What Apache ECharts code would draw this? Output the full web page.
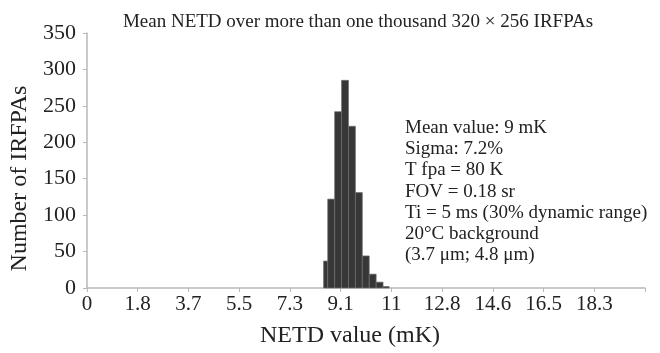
<!DOCTYPE html>
<html>
<head>
<meta charset="utf-8">
<script src="https://cdn.jsdelivr.net/npm/echarts@6/dist/echarts.min.js"></script>
<style>
  html, body { margin: 0; padding: 0; background: #fff; }
  #chart { width: 660px; height: 353px; }
</style>
</head>
<body>
<div id="chart"></div>
<script>
// Histogram bins of mean NETD (mK): lower and upper edges, and array counts
const binLow  = [8.55, 8.70, 8.95, 9.20, 9.45, 9.70, 9.95, 10.20, 10.45, 10.70];
const binHigh = [8.70, 8.95, 9.20, 9.45, 9.70, 9.95, 10.20, 10.45, 10.70, 10.92];
const counts  = [37, 122, 242, 285, 222, 131, 44, 19, 8, 2];

// Axis tick labels
const xStep = 11 / 6;
const xTickLabels = ['0', '1.8', '3.7', '5.5', '7.3', '9.1', '11', '12.8', '14.6', '16.5', '18.3', ''];
const yTicks = [0, 50, 100, 150, 200, 250, 300, 350];

const notes = [
  'Mean value: 9 mK',
  'Sigma: 7.2%',
  'T fpa = 80 K',
  'FOV = 0.18 sr',
  'Ti = 5 ms (30% dynamic range)',
  '20°C background',
  '(3.7 μm; 4.8 μm)'
];

const serif = '"Liberation Serif", "DejaVu Serif", serif';
const ink = '#222';

const bins = counts.map((c, i) => [binLow[i], binHigh[i], c]);

const chart = echarts.init(document.getElementById('chart'), null, { renderer: 'canvas' });

chart.setOption({
  animation: false,
  backgroundColor: '#fff',
  textStyle: { fontFamily: serif, color: ink },
  title: {
    text: 'Mean NETD over more than one thousand 320 × 256 IRFPAs',
    left: 353,
    textAlign: 'center',
    top: 8,
    textStyle: { fontFamily: serif, fontWeight: 'normal', fontSize: 19, color: ink }
  },
  grid: { left: 87, right: 15, top: 33, bottom: 56, containLabel: false },
  xAxis: {
    type: 'value',
    min: 0,
    max: xStep * (xTickLabels.length - 1),
    interval: xStep,
    name: 'NETD value (mK)',
    nameLocation: 'middle',
    nameGap: 36,
    nameTextStyle: { fontFamily: serif, fontSize: 24, color: ink, padding: [0, 32, 0, 0] },
    axisLine: { lineStyle: { color: '#b8b8b8', width: 1.5 } },
    axisTick: { length: 4, lineStyle: { color: '#b8b8b8' } },
    axisLabel: {
      fontFamily: serif, fontSize: 21, color: ink, margin: 6,
      showMaxLabel: true,
      formatter: v => xTickLabels[Math.round(v / xStep)] ?? ''
    },
    splitLine: { show: false }
  },
  yAxis: {
    type: 'value',
    min: yTicks[0],
    max: yTicks[yTicks.length - 1],
    interval: yTicks[1] - yTicks[0],
    name: 'Number of IRFPAs',
    nameLocation: 'middle',
    nameGap: 52,
    nameTextStyle: { fontFamily: serif, fontSize: 24, color: ink, padding: [0, 36, 0, 0] },
    axisLine: { show: true, lineStyle: { color: '#b8b8b8', width: 1.5 } },
    axisTick: { show: true, length: 4, lineStyle: { color: '#b8b8b8' } },
    axisLabel: { fontFamily: serif, fontSize: 22, color: ink, margin: 11 },
    splitLine: { show: false }
  },
  series: [{
    type: 'custom',
    data: bins,
    encode: { x: [0, 1], y: 2 },
    renderItem: (params, api) => {
      const top = api.coord([api.value(0), api.value(2)]);
      const base = api.coord([api.value(1), 0]);
      return {
        type: 'rect',
        shape: { x: top[0], y: top[1], width: base[0] - top[0], height: base[1] - top[1] },
        style: { fill: '#373737', stroke: '#6e6e6e', lineWidth: 0.7 }
      };
    }
  }],
  graphic: [{
    type: 'text',
    left: 405,
    top: 117,
    style: {
      text: notes.join('\n'),
      font: '19px ' + serif,
      fill: ink,
      lineHeight: 21.3
    }
  }]
});
</script>
</body>
</html>
